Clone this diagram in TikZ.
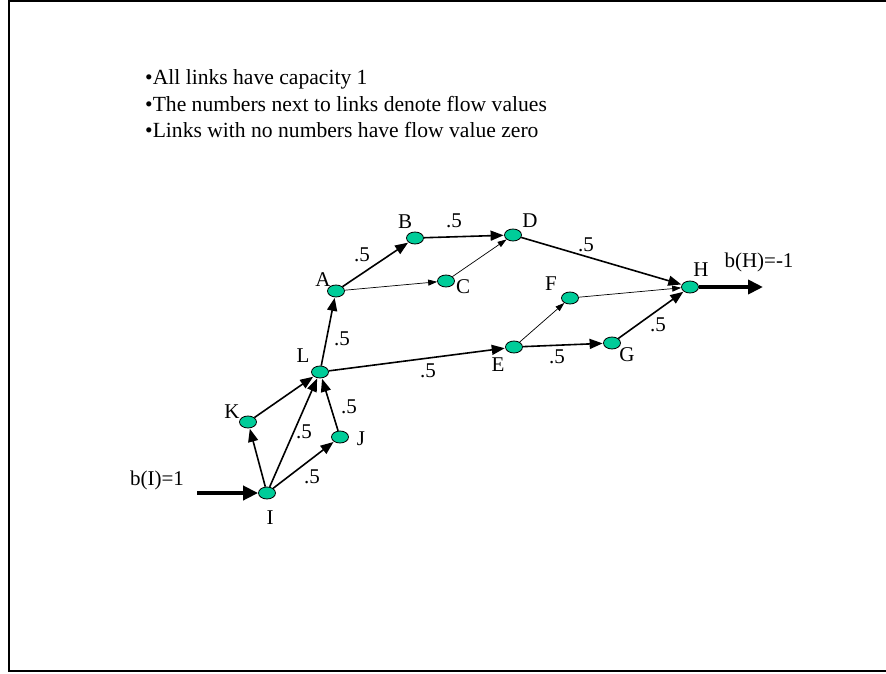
\documentclass[tikz,border=0pt]{standalone}
\usepackage{fontspec}
\setmainfont{Liberation Serif}
\usetikzlibrary{arrows.meta,shapes.geometric}
\definecolor{nodegreen}{RGB}{0,204,153}
\begin{document}
\begin{tikzpicture}[x=1pt,y=-1pt,
  vtx/.style={ellipse,draw=black,line width=0.8pt,fill=nodegreen,minimum width=17pt,minimum height=12pt,inner sep=0pt},
  lbl/.style={font=\fontsize{21}{26}\selectfont,inner sep=0pt},
  head/.style={font=\fontsize{21.6}{26.5}\selectfont,inner sep=0pt},
  flow/.style={-{Triangle[length=13pt,width=10pt]},line width=1.6pt,shorten >=0.5pt},
  zero/.style={-{Triangle[length=9pt,width=6pt]},line width=0.7pt},
  ext/.style={-{Triangle[length=15pt,width=14pt]},line width=4pt},
  val/.style={font=\fontsize{21}{24}\selectfont,inner sep=0pt}]
\useasboundingbox (0,0) rectangle (886,673);
\draw[line width=1.5pt] (886,1) -- (9,1) -- (9,671) -- (886,671);
% header
\node[head,anchor=west,align=left] (txt) at (145,104) {\textbullet All links have capacity 1\\\textbullet The numbers next to links denote flow values\\\textbullet Links with no numbers have flow value zero};
% nodes
\node[vtx] (B) at (415,238) {};
\node[vtx] (D) at (513,235) {};
\node[vtx] (A) at (336,291) {};
\node[vtx] (C) at (446,281) {};
\node[vtx] (F) at (570,298) {};
\node[vtx] (H) at (690,287) {};
\node[vtx] (L) at (320,372) {};
\node[vtx] (E) at (514,347) {};
\node[vtx] (G) at (612,343) {};
\node[vtx] (K) at (248,422) {};
\node[vtx] (J) at (340,437) {};
\node[vtx] (I) at (267,493) {};
% node labels
\node[lbl] (lB) at (405,222) {B};
\node[lbl] (lD) at (530,221) {D};
\node[lbl] (lA) at (323,280) {A};
\node[lbl] (lC) at (463,287) {C};
\node[lbl] (lF) at (551,284) {F};
\node[lbl] (lH) at (701,270) {H};
\node[lbl] (lL) at (303,356) {L};
\node[lbl] (lE) at (498,365) {E};
\node[lbl] (lG) at (627,355) {G};
\node[lbl] (lK) at (232,412) {K};
\node[lbl] (lJ) at (361,439) {J};
\node[lbl] (lI) at (270,518) {I};
\node[lbl] (bI) at (157,480) {b(I)=1};
\node[lbl] (bH) at (759,262) {b(H)=-1};
% external arrows
\coordinate (inS) at (197,493);
\coordinate (outE) at (763,287);
\draw[ext] (inS) -- (I);
\draw[ext] (H) -- (outE);
% flow edges
\draw[flow] (A) -- (B);
\draw[flow] (B) -- (D);
\draw[flow] (D) -- (H);
\draw[flow] (L) -- (A);
\draw[flow] (L) -- (E);
\draw[flow] (E) -- (G);
\draw[flow] (G) -- (H);
\draw[flow] (I) -- (L);
\draw[flow] (J) -- (L);
\draw[flow] (I) -- (J);
\draw[flow] (K) -- (L);
\draw[flow] (I) -- (K);
% zero edges
\draw[zero] (A) -- (C);
\draw[zero] (C) -- (D);
\draw[zero] (E) -- (F);
\draw[zero] (F) -- (H);
% flow values
\node[val] (v1) at (362,255) {.5};
\node[val] (v2) at (454,221) {.5};
\node[val] (v3) at (586,245) {.5};
\node[val] (v4) at (342,339) {.5};
\node[val] (v5) at (428,371) {.5};
\node[val] (v6) at (557,357) {.5};
\node[val] (v7) at (658,325) {.5};
\node[val] (v8) at (304,432) {.5};
\node[val] (v9) at (349,407) {.5};
\node[val] (v10) at (312,477) {.5};
\end{tikzpicture}
\end{document}
